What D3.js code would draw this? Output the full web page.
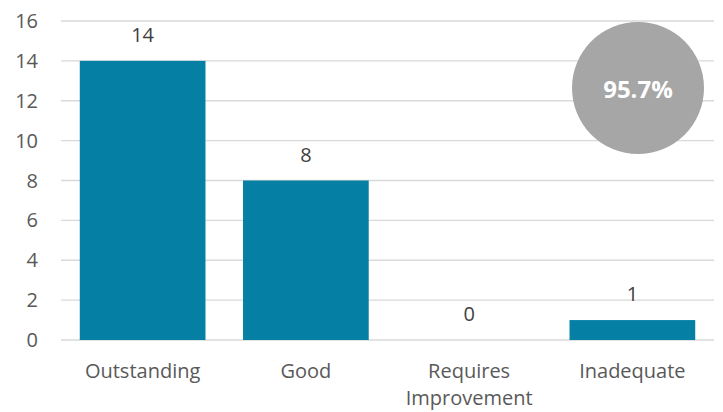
<!DOCTYPE html>
<html>
<head>
  <script src="https://d3js.org/d3.v7.min.js"></script>
  <style>
    body { margin: 0; background: #fff; }
    text { font-family: "Open Sans", Lato, sans-serif; }
  </style>
</head>
<body>
<svg id="chart" width="723" height="412"></svg>
<script>
// chart data
const categories = ["Outstanding", "Good", "Requires Improvement", "Inadequate"];
const counts = [14, 8, 0, 1];
const yTicks = [0, 2, 4, 6, 8, 10, 12, 14, 16];
const badgeText = "95.7%";

const svg = d3.select("#chart");
const plotLeft = 61, plotRight = 714, plotTop = 21, plotBottom = 340;

const x = d3.scaleBand()
    .domain(categories)
    .range([plotLeft, plotRight])
    .paddingInner(0.23)
    .paddingOuter(0.115);

const y = d3.scaleLinear()
    .domain([0, 16])
    .range([plotBottom, plotTop]);

// gridlines
svg.append("g")
    .selectAll("line")
    .data(yTicks)
    .join("line")
    .attr("x1", plotLeft)
    .attr("x2", plotRight)
    .attr("y1", d => y(d))
    .attr("y2", d => y(d))
    .attr("stroke", "#d9d9d9")
    .attr("stroke-width", 1.3);

// y tick labels
svg.append("g")
    .selectAll("text")
    .data(yTicks)
    .join("text")
    .attr("x", 38)
    .attr("y", d => y(d))
    .attr("dy", "0.35em")
    .attr("text-anchor", "end")
    .attr("font-size", 20)
    .attr("fill", "#595959")
    .text(d => d);

const rows = categories.map((c, i) => ({ cat: c, val: counts[i] }));

// bars
svg.append("g")
    .selectAll("rect")
    .data(rows)
    .join("rect")
    .attr("x", d => x(d.cat))
    .attr("y", d => y(d.val))
    .attr("width", x.bandwidth())
    .attr("height", d => y(0) - y(d.val))
    .attr("fill", "#0580a4");

// value labels
svg.append("g")
    .selectAll("text")
    .data(rows)
    .join("text")
    .attr("x", d => x(d.cat) + x.bandwidth() / 2)
    .attr("y", d => y(d.val) - 19)
    .attr("text-anchor", "middle")
    .attr("font-size", 20)
    .attr("fill", "#404040")
    .text(d => d.val);

// category labels (wrap two-word long ones)
const catLabels = svg.append("g")
    .selectAll("text")
    .data(categories)
    .join("text")
    .attr("x", d => x(d) + x.bandwidth() / 2)
    .attr("y", 378)
    .attr("text-anchor", "middle")
    .attr("font-size", 20)
    .attr("fill", "#595959");

catLabels.each(function(d) {
    const words = d.split(" ");
    const t = d3.select(this);
    words.forEach((w, i) => {
        t.append("tspan")
            .attr("x", x(d) + x.bandwidth() / 2)
            .attr("dy", i === 0 ? 0 : 27)
            .text(w);
    });
});

// percentage badge
svg.append("circle")
    .attr("cx", 638)
    .attr("cy", 88)
    .attr("r", 66)
    .attr("fill", "#a6a6a6");

svg.append("text")
    .attr("x", 638)
    .attr("y", 90)
    .attr("dy", "0.35em")
    .attr("text-anchor", "middle")
    .attr("font-size", 24)
    .attr("font-weight", "bold")
    .attr("fill", "#ffffff")
    .text(badgeText);
</script>
</body>
</html>
